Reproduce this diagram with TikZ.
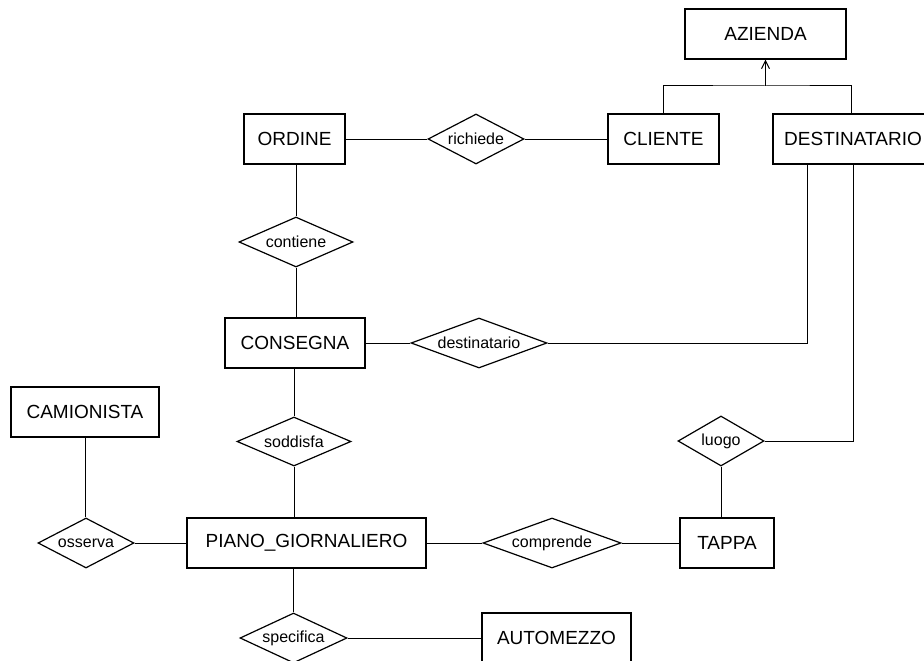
\documentclass[tikz,border=0pt]{standalone}
\usepackage{fontspec}
\setmainfont{Liberation Sans}
\usetikzlibrary{shapes.geometric,arrows.meta}
\tikzset{
  ent/.style={draw,line width=1.2pt,rectangle,minimum height=50pt,inner sep=0pt,font=\fontsize{19}{22}\selectfont},
  rel/.style={draw,line width=1.2pt,diamond,aspect=3,inner sep=0pt,minimum height=50pt,font=\fontsize{16}{19}\selectfont},
  conn/.style={line width=1pt},
  isaarrow/.style={line width=1pt,-{Straight Barb[length=8pt,width=8pt,line width=1pt]}}
}
\begin{document}
\begin{tikzpicture}[x=1pt,y=-1pt]
\useasboundingbox (0,0) rectangle (924,661);
\node[ent,minimum width=161pt] (azienda) at (765.5,34) {AZIENDA};
\node[ent,minimum width=111pt] (cliente) at (663.5,139) {CLIENTE};
\node[ent,minimum width=160pt] (dest) at (853,139) {DESTINATARIO};
\node[ent,minimum width=101pt] (ordine) at (294.5,139) {ORDINE};
\node[rel,minimum width=96pt] (richiede) at (476,139) {richiede};
\node[rel,minimum width=114pt] (contiene) at (296,242) {contiene};
\node[ent,minimum width=140pt] (consegna) at (295,343) {CONSEGNA};
\node[rel,minimum width=136pt] (destrel) at (479,343) {destinatario};
\node[ent,minimum width=148pt] (camionista) at (85,412) {CAMIONISTA};
\node[rel,minimum width=114pt,minimum height=49pt] (soddisfa) at (294,441.5) {soddisfa};
\node[ent,minimum width=239pt] (piano) at (306.5,543) {PIANO\_GIORNALIERO};
\node[rel,minimum width=96pt] (osserva) at (86,543) {osserva};
\node[rel,minimum width=86pt] (luogo) at (721,441) {luogo};
\node[rel,minimum width=138pt] (comprende) at (552,543) {comprende};
\node[ent,minimum width=94pt] (tappa) at (727,543) {TAPPA};
\node[rel,minimum width=107pt] (specifica) at (293.5,638) {specifica};
\node[ent,minimum width=149pt] (automezzo) at (556.5,638) {AUTOMEZZO};
\coordinate (isa) at (765.5,86);
\draw[conn] (cliente.north) |- (isa) -| ([xshift=-2pt]dest.north);
\draw[isaarrow] (isa) -- (azienda.south);
\draw[conn] (ordine.east) -- (richiede.west);
\draw[conn] (richiede.east) -- (cliente.west);
\draw[conn] (contiene.north |- ordine.south) -- (contiene.north);
\draw[conn] (contiene.south) -- (contiene.south |- consegna.north);
\draw[conn] (consegna.east) -- (destrel.west);
\draw[conn] (destrel.east) -| ([xshift=-46pt]dest.south);
\draw[conn] (luogo.east) -| (dest.south);
\draw[conn] (luogo.south) -- (luogo.south |- tappa.north);
\draw[conn] (soddisfa.north |- consegna.south) -- (soddisfa.north);
\draw[conn] (soddisfa.south) -- (soddisfa.south |- piano.north);
\draw[conn] (camionista.south) -- (camionista.south |- osserva.north);
\draw[conn] (osserva.east) -- (piano.west);
\draw[conn] (piano.east) -- (comprende.west);
\draw[conn] (comprende.east) -- (tappa.west);
\draw[conn] (specifica.north |- piano.south) -- (specifica.north);
\draw[conn] (specifica.east) -- (automezzo.west);
\end{tikzpicture}
\end{document}
